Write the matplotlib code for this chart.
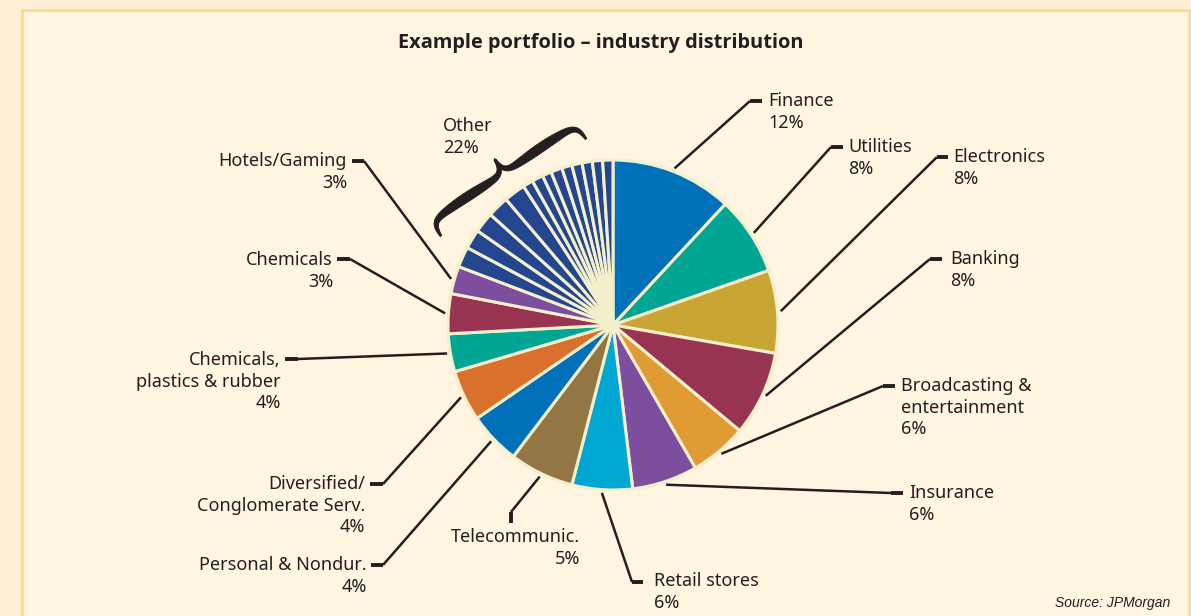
import matplotlib
matplotlib.use("Agg")
import matplotlib.pyplot as plt
from matplotlib.patches import Rectangle, Polygon
from matplotlib import font_manager
import numpy as np

W, H = 1191, 616

# ---------------- data ----------------
industries = ["Finance", "Utilities", "Electronics", "Banking",
              "Broadcasting &\nentertainment", "Insurance", "Retail stores",
              "Telecommunic.", "Personal & Nondur.",
              "Diversified/\nConglomerate Serv.", "Chemicals,\nplastics & rubber",
              "Chemicals", "Hotels/Gaming"]
label_pcts = [12, 8, 8, 8, 6, 6, 6, 5, 4, 4, 4, 3, 3]
# slice sizes as drawn in the reference (percent of the pie)
slice_shares = [11.9, 7.7, 8.1, 8.3, 5.6, 6.4, 5.9, 6.3, 5.1, 5.0, 3.7, 3.9, 2.7]
other_name = "Other"
other_pct = 22
other_parts = [2.0, 1.9, 2.0, 2.1, 2.1, 1.0, 1.1, 0.9, 1.1, 1.0, 1.0, 1.0, 1.0, 1.0]

colors = ["#0070B9", "#00A693", "#C9A634", "#983452", "#E09B34", "#7D4E9D",
          "#00A7D3", "#937643", "#0070B9", "#D9702C", "#00A693", "#983452",
          "#7D4E9D"]
other_color = "#24468F"

# ---------------- helpers ----------------
ttf = font_manager.fontManager.ttflist
avail = {f.name for f in ttf}

def pick(fams, default="DejaVu Sans"):
    for f in fams:
        if f in avail:
            return f
    return default

def pick_bold(fams, default="DejaVu Sans"):
    for f in fams:
        for e in ttf:
            w = e.weight
            if isinstance(w, str):
                w = font_manager.weight_dict.get(w, 400)
            if e.name == f and w >= 700 and e.style == "normal":
                return f
    return default

LABEL_FONT = pick(["Noto Sans", "Open Sans", "Lato"])
TITLE_FONT = pick_bold(["Noto Sans", "Open Sans", "Lato", "Roboto", "Liberation Sans"])
TXT = "#231F20"

def P(x, y):
    return (x, H - y)

fig = plt.figure(figsize=(W / 100, H / 100), dpi=100)
fig.patch.set_facecolor("#FFEFD6")
ax = fig.add_axes([0, 0, 1, 1])

# panel
x0, y0 = P(22, 640)
ax.add_patch(Rectangle((x0, y0), 1189 - 22, 640 - 10, facecolor="#FFF5E1",
                       edgecolor="#FFD98A", lw=1.8, zorder=0))

# ---------------- pie ----------------
cx, cy = P(613, 325)
R = 165
values = slice_shares + other_parts
cols = colors + [other_color] * len(other_parts)
wedges, _ = ax.pie(values, colors=cols, startangle=90, counterclock=False,
                   center=(cx, cy), radius=R,
                   wedgeprops=dict(edgecolor="#F4F0CB", linewidth=2.2))
for w in wedges:
    w.set_zorder(2)

ax.set_xlim(0, W)
ax.set_ylim(0, H)
ax.set_aspect("auto")
ax.axis("off")

def rim_point(w, rfac=1.02):
    ang = np.deg2rad((w.theta1 + w.theta2) / 2)
    return cx + R * rfac * np.cos(ang), cy + R * rfac * np.sin(ang)

# label layout: text x, first-line y, ha, joint x, joint y, tick dx, tick dy
layout = [
    (768, 101, "left", 750, 101, 12, 0),
    (848, 147, "left", 831, 147, 12, 0),
    (953, 157, "left", 937, 157, 11, 0),
    (950, 259, "left", 930, 259, 12, 0),
    (901, 386, "left", 883, 386, 12, 0),
    (909, 493, "left", 891, 493, 12, 0),
    (654, 581, "left", 632, 582, 11, 0),
    (580, 537, "right", 511, 512, 0, 11),
    (367, 565, "right", 383, 565, -12, 0),
    (365, 484, "right", 383, 484, -13, 0),
    (281, 360, "right", 298, 359, -13, 0),
    (333, 260, "right", 350, 259, -13, 0),
    (347, 161, "right", 364, 161, -12, 0),
]
DY = 21.7
FS = 13

for i, (name, pct) in enumerate(zip(industries, label_pcts)):
    tx, ty, ha, jx, jy, tdx, tdy = layout[i]
    lines = name.split("\n") + [f"{pct}%"]
    for k, ln in enumerate(lines):
        ax.text(*P(tx, ty + k * DY), ln, ha=ha, va="center", fontsize=FS,
                family=LABEL_FONT, color=TXT, zorder=5)
    rx, ry = rim_point(wedges[i])
    jxd, jyd = P(jx, jy)
    ax.plot([jxd, rx], [jyd, ry], color=TXT, lw=1.8, solid_capstyle="butt", zorder=4)
    ex, ey = P(jx + tdx, jy + tdy)
    ax.plot([jxd, ex], [jyd, ey], color=TXT, lw=2.8, solid_capstyle="butt", zorder=4)

# Other label
for k, ln in enumerate([other_name, f"{other_pct}%"]):
    ax.text(*P(443, 126 + k * DY), ln, ha="left", va="center", fontsize=FS,
            family=LABEL_FONT, color=TXT, zorder=5)

# ---------------- curly brace (tapered) ----------------
p0 = np.array([441.0, 236.0])
p1 = np.array([586.0, 139.0])
L = np.linalg.norm(p1 - p0)
d = (p1 - p0) / L
perp = np.array([d[1], -d[0]])
if perp[1] > 0:
    perp = -perp
h = 34.0

def bez(a, b, c, e, n=40):
    t = np.linspace(0, 1, n)[:, None]
    a, b, c, e = map(np.array, (a, b, c, e))
    return ((1 - t) ** 3) * a + 3 * ((1 - t) ** 2) * t * b + 3 * (1 - t) * t ** 2 * c + t ** 3 * e

half = np.vstack([
    bez((0, 0), (0.0, 0.45 * h), (0.03 * L, 0.5 * h), (0.12 * L, 0.52 * h)),
    bez((0.12 * L, 0.52 * h), (0.25 * L, 0.55 * h), (0.36 * L, 0.5 * h), (0.43 * L, 0.52 * h))[1:],
    bez((0.43 * L, 0.52 * h), (0.48 * L, 0.54 * h), (0.5 * L, 0.65 * h), (0.5 * L, h))[1:],
])
other_half = np.column_stack([L - half[::-1, 0], half[::-1, 1]])
center_line = np.vstack([half, other_half[1:]])
seg = np.linalg.norm(np.diff(center_line, axis=0), axis=1)
s = np.concatenate([[0], np.cumsum(seg)])
s = s / s[-1]
arm = np.where(s < 0.5, s / 0.5, (1 - s) / 0.5)
width = 1.8 + 7.5 * np.sin(np.pi * np.clip(arm, 0, 1)) ** 1.0
tang = np.gradient(center_line, axis=0)
tang /= np.linalg.norm(tang, axis=1)[:, None]
nrm = np.column_stack([-tang[:, 1], tang[:, 0]])
left = center_line + nrm * width[:, None] / 2
right = center_line - nrm * width[:, None] / 2
outline_local = np.vstack([left, right[::-1]])
outline_px = p0 + outline_local[:, :1] * d + outline_local[:, 1:] * perp
outline = np.array([P(x, y) for x, y in outline_px])
ax.add_patch(Polygon(outline, closed=True, facecolor=TXT, edgecolor=TXT,
                     lw=0.6, joinstyle="round", zorder=4))

# title
title = ax.text(*P(601, 43), "Example portfolio \u2013 industry distribution",
                ha="center", va="center", fontsize=16, fontweight="bold",
                family=TITLE_FONT, color=TXT, zorder=5)
fig.canvas.draw()
bb = title.get_window_extent()
title.set_fontsize(16 * 408 / bb.width)

ax.text(*P(1170, 603), "Source: JPMorgan", ha="right", va="center",
        fontsize=10, style="italic", family="Liberation Sans", color=TXT, zorder=5)

fig.savefig("out.png", dpi=100, facecolor=fig.get_facecolor())
